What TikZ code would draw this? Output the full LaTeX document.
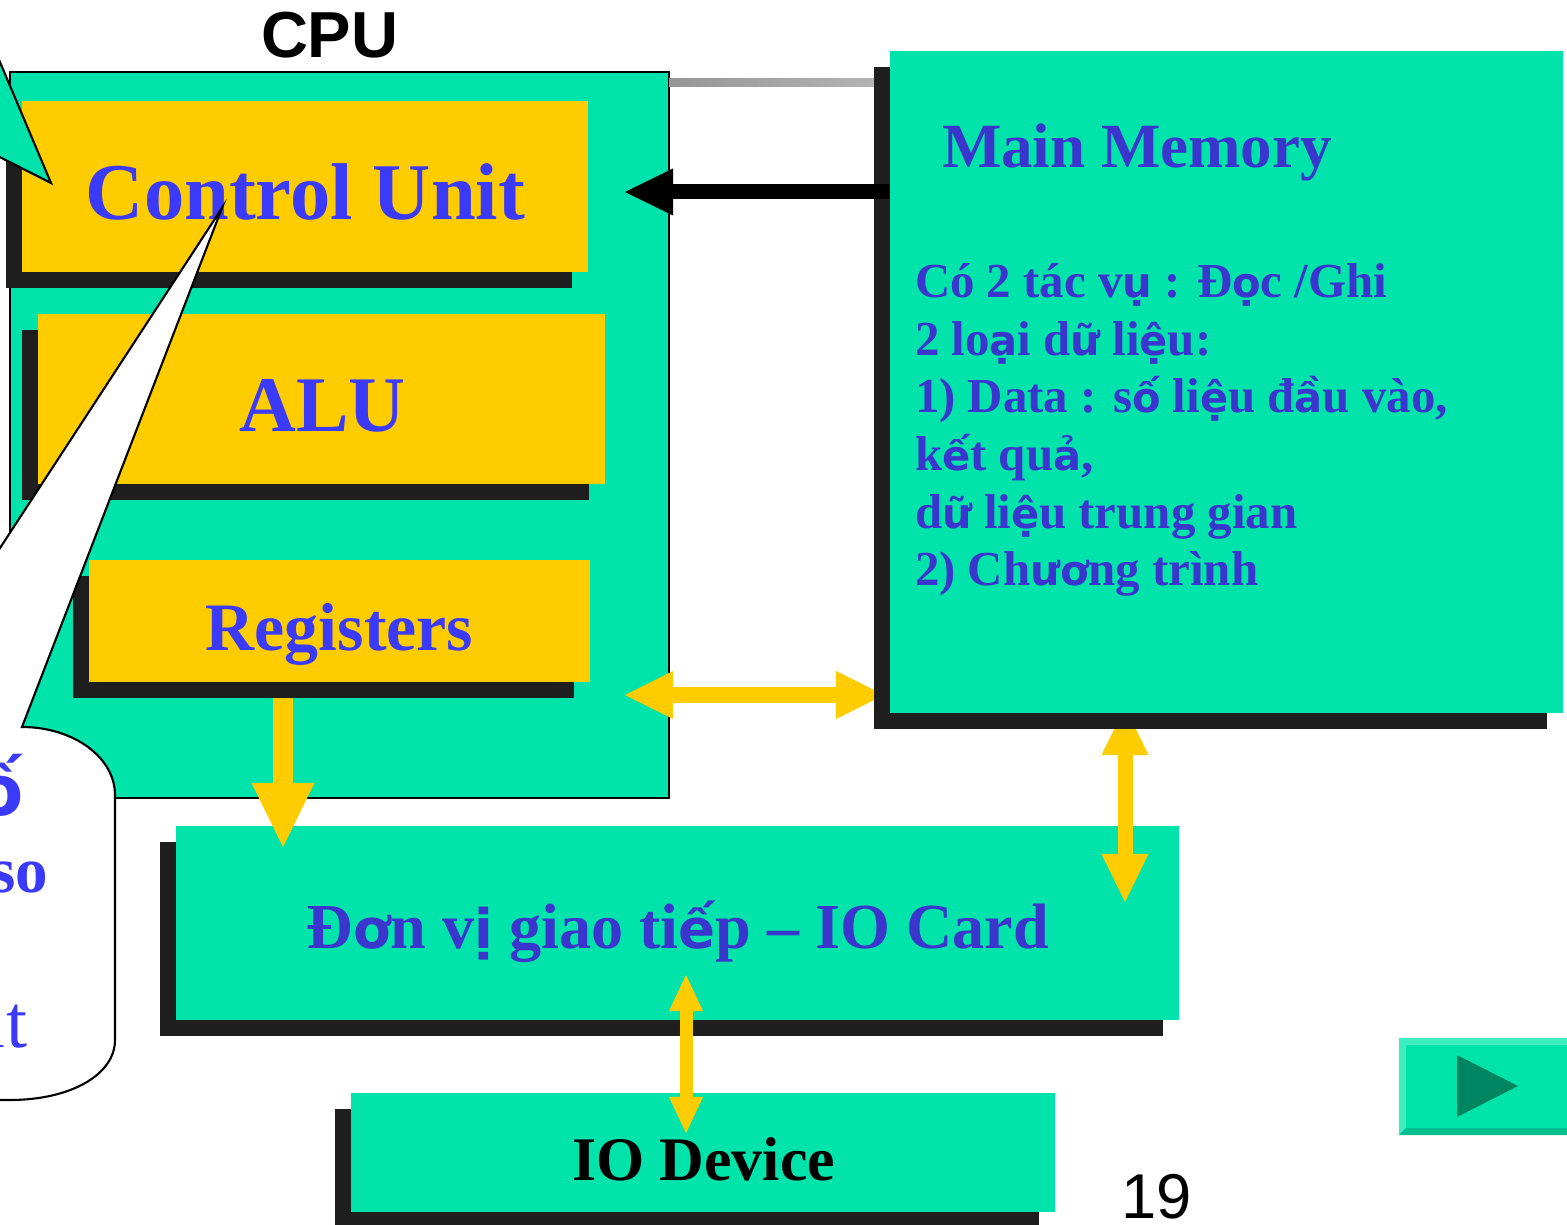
\documentclass[tikz,border=0pt]{standalone}
\usepackage{fontspec}
\setmainfont{Liberation Serif}
\newfontfamily\labelsans{Liberation Sans}
\newfontfamily\vnsans[Scale=0.85]{DejaVu Sans}
% Vietnamese letters with stacked marks are set in a bold sans face
\newcommand\vs[1]{{\vnsans\bfseries #1}}
\usetikzlibrary{arrows.meta,shadows}

\definecolor{boxteal}{HTML}{00E3AA}
\definecolor{unityellow}{HTML}{FFCC00}
\definecolor{shadowgray}{HTML}{1E1E1E}
\definecolor{unitblue}{HTML}{3A3AF8}
\definecolor{memblue}{HTML}{3A35CC}
\definecolor{busgrayA}{HTML}{969696}
\definecolor{busgrayB}{HTML}{B4B4B4}
\definecolor{btnlight}{HTML}{3DEDC0}
\definecolor{btndark}{HTML}{00BF8E}
\definecolor{btnarrow}{HTML}{008561}

\pgfdeclarelayer{back}
\pgfdeclarelayer{mid}
\pgfsetlayers{back,mid,main}

\tikzset{
  block/.style={rectangle, inner sep=0pt, outer sep=0pt, fill=boxteal},
  unitbox/.style={rectangle, inner sep=0pt, outer sep=0pt, fill=unityellow},
  shadowed/.style={general shadow={fill=shadowgray, shadow xshift=-0.16cm, shadow yshift=-0.16cm}},
  txt/.style={inner sep=0pt, outer sep=0pt},
  memline/.style={txt, anchor=base west, text=memblue, font=\bfseries\fontsize{13.9}{17}\selectfont},
  callout/.style={draw=black, line width=0.6pt, line join=miter},
  bigflow/.style={unityellow, line width=0.20cm,
    -{Triangle[length=0.64cm, width=0.63cm, line width=0pt]}},
  busflow/.style={unityellow, line width=0.16cm,
    {Triangle[length=0.48cm, width=0.48cm, line width=0pt]}-{Triangle[length=0.48cm, width=0.48cm, line width=0pt]}},
  memflow/.style={unityellow, line width=0.15cm,
    {Triangle[length=0.48cm, width=0.47cm, line width=0pt]}-{Triangle[length=0.48cm, width=0.47cm, line width=0pt]}},
  devflow/.style={unityellow, line width=0.13cm,
    {Triangle[length=0.36cm, width=0.34cm, line width=0pt]}-{Triangle[length=0.36cm, width=0.34cm, line width=0pt]}},
  ctrlflow/.style={black, line width=0.15cm,
    -{Triangle[length=0.48cm, width=0.47cm, line width=0pt]}},
}

\begin{document}
\begin{tikzpicture}[x=0.01cm, y=-0.01cm]
\useasboundingbox (0,0) rectangle (1567,1225);

% ---------- lowest layer: CPU frame and IO card ----------
\begin{pgfonlayer}{back}
  \node[block, draw=black, line width=0.5pt, minimum width=6.59cm, minimum height=7.26cm] (cpu) at (339.5,435) {};
  \node[block, shadowed, minimum width=10.03cm, minimum height=1.94cm] (iocard) at (677.5,923) {};
\end{pgfonlayer}

% ---------- main memory ----------
\node[block, shadowed, minimum width=6.73cm, minimum height=6.62cm] (mem) at (1226.5,382) {};
\node[txt, anchor=base west, text=memblue, font=\bfseries\fontsize{17.9}{21}\selectfont] (mem-title) at (942,168) {Main Memory};
\node[memline] (mem-l1) at (915,298) {Có 2 tác v\vs{ụ} : Đ\vs{ọ}c /Ghi};
\node[memline] (mem-l2) at (915,356) {2 lo\vs{ạ}i d\vs{ữ} li\vs{ệ}u:};
\node[memline] (mem-l3) at (915,413) {1) Data : s\vs{ố} li\vs{ệ}u đ\vs{ầ}u vào,};
\node[memline] (mem-l4) at (915,471) {k\vs{ế}t qu\vs{ả},};
\node[memline] (mem-l5) at (915,529) {d\vs{ữ} li\vs{ệ}u trung gian};
\node[memline] (mem-l6) at (915,586) {2) Ch\vs{ươ}ng trình};

% ---------- CPU units ----------
\node[unitbox, shadowed, minimum width=5.66cm, minimum height=1.71cm] (cu) at (305,186.5) {};
\node[unitbox, shadowed, minimum width=5.67cm, minimum height=1.70cm] (alu) at (321.5,399) {};
\node[unitbox, shadowed, minimum width=5.01cm, minimum height=1.22cm] (reg) at (339.5,621) {};
\node[txt, anchor=base, text=unitblue, font=\bfseries\fontsize{22.9}{27}\selectfont] (cu-text) at (305.5,220) {Control Unit};
\node[txt, anchor=base, text=unitblue, font=\bfseries\fontsize{22.4}{27}\selectfont] (alu-text) at (322.5,432) {ALU};
\node[txt, anchor=base, text=unitblue, font=\bfseries\fontsize{19.3}{23}\selectfont] (reg-text) at (339.5,650) {Registers};
\node[txt, anchor=base west, font=\labelsans\bfseries\fontsize{18.5}{22}\selectfont] (cpu-label) at (261,58) {CPU};

% ---------- IO card and device ----------
\node[txt, anchor=base, text=memblue, font=\bfseries\fontsize{18.25}{22}\selectfont] (iocard-text) at (678,948) {Đ\vs{ơ}n v\vs{ị} giao ti\vs{ế}p – IO Card};
\node[block, shadowed, minimum width=7.04cm, minimum height=1.19cm] (iodev) at (703,1152.5) {};
\node[txt, anchor=base, font=\bfseries\fontsize{17.6}{21}\selectfont] (iodev-text) at (703.5,1180) {IO Device};

% ---------- callouts ----------
\path[callout, fill=white]
  (222,208) -- (22,727) .. controls (73,727) and (115,757) .. (115,795)
  -- (115,1040) .. controls (115,1075) and (70,1100) .. (10,1100)
  -- (-30,1100) -- (-30,594) -- cycle;
\node[txt, anchor=base east, text=unitblue, font=\vnsans\bfseries\fontsize{23.5}{28}\selectfont] (note-a) at (24,815) {ố};
\node[txt, anchor=base east, text=unitblue, font=\bfseries\fontsize{18.5}{22}\selectfont] (note-b) at (48,892) {so};
\node[txt, anchor=base east, text=unitblue, font=\fontsize{21.5}{26}\selectfont] (note-c) at (27,1047) {it};
\path[callout, fill=boxteal] (-30,-9) -- (51,183) -- (-30,142) -- cycle;

% ---------- buses under the memory block ----------
\coordinate (cpu-bus) at (625,695);
\coordinate (mem-bus) at (884,695);
\coordinate (mem-down) at (1125,707);
\coordinate (card-up) at (1125,902);
\begin{pgfonlayer}{mid}
  \shade[left color=busgrayA, right color=busgrayB] (cpu.north east |- 0,79) rectangle (880,87);
  \draw[busflow] (cpu-bus) -- (mem-bus);
  \draw[memflow] (mem-down) -- (card-up);
\end{pgfonlayer}

% ---------- control and data arrows ----------
\coordinate (cu-in) at (625,192);
\draw[ctrlflow] (mem.west |- 0,192) -- (cu-in);
\coordinate (reg-out) at (283,698);
\coordinate (card-in) at (283,847);
\draw[bigflow] (reg-out) -- (card-in);
\coordinate (card-io) at (686,975);
\coordinate (dev-io) at (686,1133);
\draw[devflow] (card-io) -- (dev-io);

% ---------- page number and next button ----------
\node[txt, anchor=base west, font=\labelsans\fontsize{18}{22}\selectfont] (page-no) at (1121,1218) {19};
\fill[boxteal] (1399,1038) rectangle (1567,1135);
\fill[btnlight] (1399,1038) -- (1567,1038) -- (1567,1045) -- (1406,1045) -- (1406,1128) -- (1399,1135) -- cycle;
\fill[btndark] (1399,1135) -- (1406,1128) -- (1567,1128) -- (1567,1135) -- cycle;
\fill[btnarrow] (1457,1055) -- (1518,1086) -- (1457,1117) -- cycle;
\end{tikzpicture}
\end{document}
